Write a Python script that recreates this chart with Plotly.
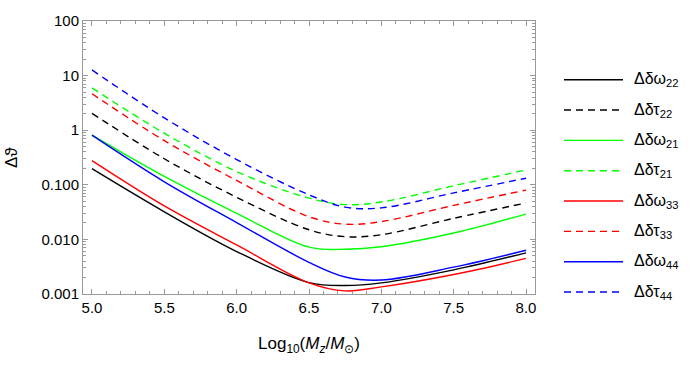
import plotly.graph_objects as go

# ---- data ----
mass = [5.0, 5.5, 6.0, 6.5, 6.75, 7.0, 7.5, 8.0]

d_omega_22 = [0.197, 0.032, 0.0060, 0.00162, 0.00143, 0.00160, 0.00277, 0.00566]
d_tau_22   = [2.04, 0.30, 0.059, 0.0150, 0.0112, 0.0122, 0.0243, 0.0465]
d_omega_21 = [0.81, 0.142, 0.030, 0.0072, 0.0066, 0.00735, 0.0131, 0.0291]
d_tau_21   = [5.97, 0.88, 0.175, 0.057, 0.0434, 0.0484, 0.096, 0.187]
d_omega_33 = [0.277, 0.041, 0.0079, 0.00160, 0.00114, 0.00135, 0.00228, 0.00448]
d_tau_33   = [4.66, 0.645, 0.12, 0.026, 0.0190, 0.0212, 0.042, 0.080]
d_omega_44 = [0.81, 0.1135, 0.0203, 0.0038, 0.00205, 0.00180, 0.0031, 0.00632]
d_tau_44   = [12.7, 1.68, 0.29, 0.0655, 0.039, 0.0378, 0.071, 0.132]

names = ["Δδω<sub>22</sub>", "Δδτ<sub>22</sub>", "Δδω<sub>21</sub>", "Δδτ<sub>21</sub>",
         "Δδω<sub>33</sub>", "Δδτ<sub>33</sub>", "Δδω<sub>44</sub>", "Δδτ<sub>44</sub>"]
series = [d_omega_22, d_tau_22, d_omega_21, d_tau_21, d_omega_33, d_tau_33, d_omega_44, d_tau_44]
colors = ["#000000", "#000000", "#00ff00", "#00ff00", "#ff0000", "#ff0000", "#0000ff", "#0000ff"]
dashes = ["solid", "7px,5px"] * 4

y_tickvals = [0.001, 0.01, 0.1, 1, 10, 100]
y_ticktext = ["0.001", "0.010", "0.100", "1", "10", "100"]
y_minor = [m * 10.0 ** e for e in range(-3, 2) for m in range(2, 10)]
x_tickvals = [5.0, 5.5, 6.0, 6.5, 7.0, 7.5, 8.0]
x_ticktext = ["5.0", "5.5", "6.0", "6.5", "7.0", "7.5", "8.0"]
x_minor = [round(4.9 + 0.1 * k, 1) for k in range(33)]

FONT = "Liberation Sans, Arial, sans-serif"
L, R, T, B = 83, 535, 15, 294
W, H = 700, 371

fig = go.Figure()
for nm, ys, c, d in zip(names, series, colors, dashes):
    fig.add_trace(go.Scatter(x=mass, y=ys, mode="lines", name=nm,
                             line=dict(color=c, width=1.4, dash=d, shape="spline", smoothing=1.0),
                             showlegend=False))

def px_x(p):
    return (p - L) / (R - L)

def px_y(p):
    return (B - p) / (B - T)

shapes = []
annotations = []
for i, (nm, c, d) in enumerate(zip(names, colors, dashes)):
    yy = 75 + 31 * i
    shapes.append(dict(type="line", xref="paper", yref="paper",
                       x0=px_x(564), x1=px_x(623), y0=px_y(yy), y1=px_y(yy),
                       line=dict(color=c, width=1.4, dash=d)))
    annotations.append(dict(text=nm, xref="paper", yref="paper", x=px_x(632), y=px_y(yy),
                            xanchor="left", yanchor="middle", showarrow=False,
                            font=dict(family=FONT, size=16, color="black")))

annotations.append(dict(text="Δϑ", xref="paper", yref="paper", x=px_x(12), y=px_y(155),
                        xanchor="center", yanchor="middle", textangle=-90, showarrow=False,
                        font=dict(family=FONT, size=17, color="black")))
annotations.append(dict(text="Log<sub>10</sub>(<i>M<sub>z</sub></i>/<i>M</i><sub>⊙</sub>)",
                        xref="paper", yref="paper", x=px_x(309), y=px_y(346),
                        xanchor="center", yanchor="middle", showarrow=False,
                        font=dict(family=FONT, size=17, color="black")))

axis_common = dict(showline=True, linecolor="#999999", linewidth=1, mirror="ticks",
                   ticks="inside", tickcolor="#999999", ticklen=5, tickwidth=1,
                   showgrid=False, zeroline=False,
                   tickfont=dict(family=FONT, size=15, color="black"))

fig.update_layout(
    width=W, height=H,
    margin=dict(l=L, r=W - R, t=T, b=H - B),
    paper_bgcolor="white", plot_bgcolor="white",
    shapes=shapes, annotations=annotations,
    xaxis=dict(range=[4.938, 8.062], tickvals=x_tickvals, ticktext=x_ticktext,
               minor=dict(ticks="inside", ticklen=3, tickcolor="#999999", tickvals=x_minor, showgrid=False),
               **axis_common),
    yaxis=dict(type="log", range=[-3, 2], tickvals=y_tickvals, ticktext=y_ticktext,
               minor=dict(ticks="inside", ticklen=3, tickcolor="#999999", tickvals=y_minor, showgrid=False),
               **axis_common),
)

fig.write_html("out.html")
